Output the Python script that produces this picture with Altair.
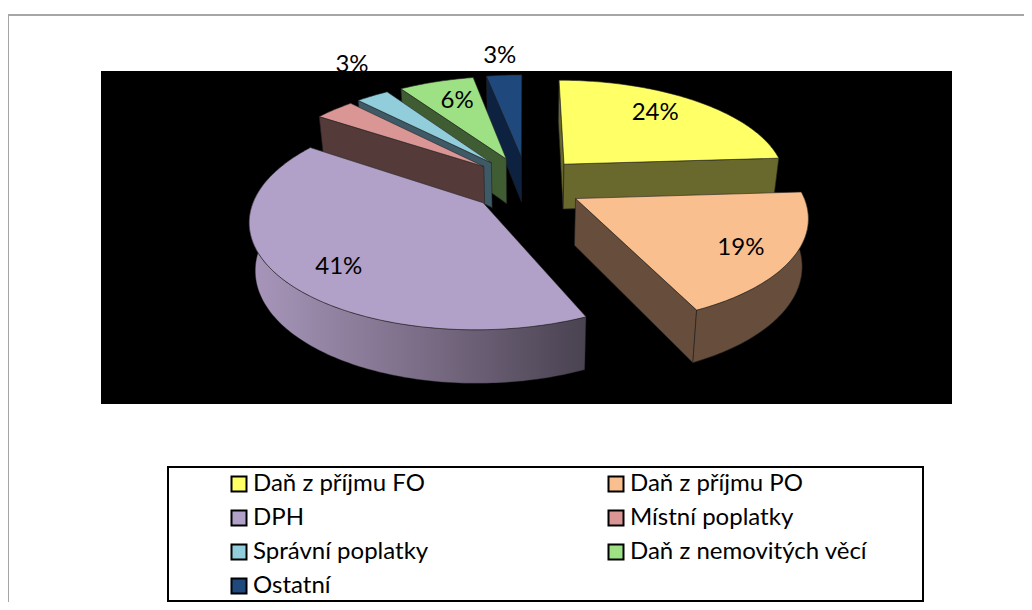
import math
import altair as alt

names = ["Daň z příjmu FO", "Daň z příjmu PO", "DPH", "Místní poplatky",
         "Správní poplatky", "Daň z nemovitých věcí", "Ostatní"]
legend_order = ["Daň z příjmu FO", "DPH", "Správní poplatky", "Ostatní",
                "Daň z příjmu PO", "Místní poplatky", "Daň z nemovitých věcí"]
shares = [24.0, 19.0, 41.4, 3.4, 2.8, 6.4, 3.0]
labels = ["24%", "19%", "41%", "3%", "", "6%", "3%"]
face_colors = ["#FFFF66", "#FABF8F", "#B1A0C7", "#DA9694", "#92CDDC", "#9DE184", "#1F497D"]
wall_colors = ["#69692D", "#674D3B", "#7C6E88", "#553A3A", "#3E5A66", "#3F5C33", "#0D2240"]
label_r = [0.74, 0.79, 0.781, 1.44, 0, 0.72, 1.27]
label_theta = [39.3, 123.3, 225.8, 328.8, 0, 339, 354.5]
nudge = [-2, -3.5, 6, 5, 4, 4, 2]
purple_trim = 1.0

# perspective layout of the tilted pie
XVP, YVP, A, H, K, EXPLODE = 525.0, -500.0, 224.0, 684.0, 0.149, 0.275
OFF = 8.0


def top(X, Y):
    w = 1 + K * Y
    return (XVP + A * X / w, YVP + H / w)


def bot(p):
    return (XVP + (p[0] - XVP) * 0.978, p[1] + 0.052 * (p[1] + 700))


def loc(p):
    return [p[0] - OFF, p[1] - OFF]


def feat(pts, name):
    ring = [loc(p) for p in pts]
    ring.append(ring[0])
    return {"type": "Feature", "geometry": {"type": "Polygon", "coordinates": [ring]},
            "properties": {"name": name}}


bounds = []
acc = 0.0
for s in shares:
    bounds.append((acc * 3.6, (acc + s) * 3.6))
    acc += s


def apex(i):
    b = math.radians(sum(bounds[i]) / 2)
    return (EXPLODE * math.sin(b) + nudge[i] / A, EXPLODE * math.cos(b))


def outer(i, deg):
    a = apex(i)
    t = math.radians(deg)
    return top(a[0] + math.sin(t), a[1] + math.cos(t))


def arc(i, d1, d2):
    n = max(2, int(abs(d2 - d1)))
    return [outer(i, d1 + (d2 - d1) * j / n) for j in range(n + 1)]


def face(i, trim=0.0):
    a = apex(i)
    return feat([top(*a)] + arc(i, bounds[i][0] + trim, bounds[i][1]), names[i])


def radial(i, deg):
    a = top(*apex(i))
    o = outer(i, deg)
    return feat([a, o, bot(o), bot(a)], names[i] + " wall")


def rim(i, d1, d2):
    pts = arc(i, d1, d2)
    return feat(pts + [bot(p) for p in reversed(pts)], names[i] + " wall")


back = []
for i in [6, 5, 4, 3]:
    back += [radial(i, bounds[i][0]), face(i)]
front = [face(2, purple_trim),
         radial(0, 0), radial(0, bounds[0][1]), face(0),
         radial(1, bounds[1][1]), rim(1, bounds[1][0], bounds[1][1]), face(1)]
purple_rim = [rim(2, bounds[2][0] + purple_trim, 285)]

domain = names + [n + " wall" for n in names]
rng = face_colors + wall_colors
proj = alt.Projection(type="identity", scale=1, translate=[0, 0])


def inline(f):
    return alt.InlineData(values={"type": "FeatureCollection", "features": f},
                          format=alt.DataFormat(property="features", type="json"))


color = alt.Color("properties.name:N",
                  scale=alt.Scale(domain=domain, range=rng),
                  legend=alt.Legend(orient="none", legendX=219, legendY=464, columns=2, title=None,
                                    values=legend_order, symbolType="square", symbolSize=225,
                                    symbolStrokeColor="black", symbolStrokeWidth=2,
                                    labelFont="Lato", labelFontSize=24, labelColor="black",
                                    labelOffset=2, rowPadding=10, columnPadding=175,
                                    gridAlign="each", labelLimit=400))


def shape(f, **kw):
    return alt.Chart(inline(f)).mark_geoshape(**kw).project(**proj.to_dict())


def rect(x0, y0, x1, y1):
    return [(x0, y0), (x1, y0), (x1, y1), (x0, y1)]


text_rows = []
for i, lab in enumerate(labels):
    if not lab:
        continue
    a = apex(i)
    t = math.radians(label_theta[i])
    p = top(a[0] + label_r[i] * math.sin(t), a[1] + label_r[i] * math.cos(t))
    text_rows.append({"t": lab, "x": p[0] - OFF, "y": p[1] - OFF, "under": i == 3})


def text(rows):
    return alt.Chart(alt.Data(values=rows)).mark_text(
        font="Lato", fontSize=24, color="black", baseline="middle", align="center"
    ).encode(x=alt.X("x:Q", scale=None), y=alt.Y("y:Q", scale=None), text="t:N")


frame = shape([feat(rect(8, 15, 1060, 640), "frame")], fillOpacity=0, fill="white",
              stroke="#A6A6A6", strokeWidth=2)
plot_bg = shape([feat(rect(101, 71, 952, 404), "bg")], fill="black", stroke="black", strokeWidth=0)
legend_box = shape([feat(rect(168, 467, 923, 601), "box")], fill="white", stroke="black", strokeWidth=2)

gradient = alt.Gradient(gradient="linear", x1=0, x2=1, y1=0, y2=0,
                        stops=[alt.GradientStop(offset=0, color="#A897BB"),
                               alt.GradientStop(offset=0.5, color="#7C6E88"),
                               alt.GradientStop(offset=1, color="#494250")])

chart = alt.layer(
    frame,
    text([r for r in text_rows if r["under"]]),
    plot_bg,
    legend_box,
    shape(back, stroke="#222222", strokeWidth=0.6).encode(color=color),
    shape(purple_rim, fill=gradient, stroke="#222222", strokeWidth=0.4),
    shape(front, stroke="#222222", strokeWidth=0.6).encode(color=color),
    text([r for r in text_rows if not r["under"]]),
).properties(width=1016, height=594, padding=0,
             autosize=alt.AutoSizeParams(type="none"),
             background="white").configure_view(strokeWidth=0)

chart.save("out.html", embed_options={"renderer": "svg", "actions": False})
